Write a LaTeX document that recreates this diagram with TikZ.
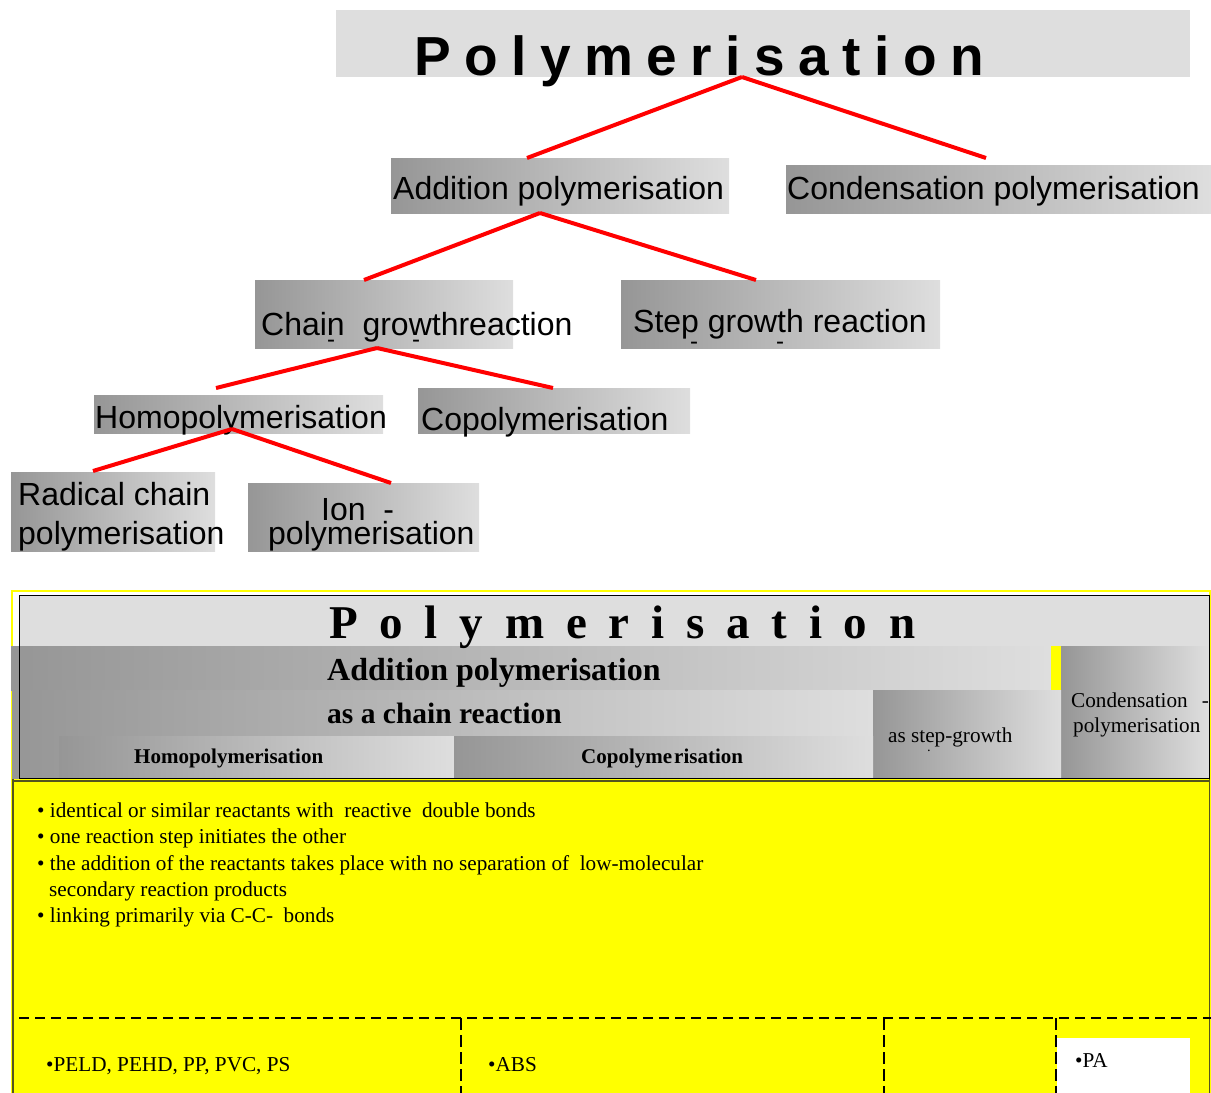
\documentclass[tikz,border=0pt]{standalone}
\usepackage{fontspec}
\setmainfont{Liberation Serif}
\newfontfamily\arial{Liberation Sans}
\definecolor{gdark}{RGB}{150,150,150}
\definecolor{glight}{RGB}{222,222,222}
\definecolor{borderol}{RGB}{85,85,30}
\definecolor{yel}{RGB}{255,255,0}
\tikzset{
  cell/.style={inner sep=0pt, outer sep=0pt, anchor=north west, draw=none},
  grad/.style={cell, left color=gdark, right color=glight},
  link/.style={red, line width=4pt},
  sans/.style={inner sep=0pt, anchor=base west, font=\arial\fontsize{32}{37}\selectfont},
  dashmark/.style={inner sep=0pt, anchor=base, font=\arial\fontsize{24}{24}\selectfont},
  ser/.style={inner sep=0pt, anchor=base west, font=\fontsize{21.2}{26}\selectfont},
  serb/.style={inner sep=0pt, anchor=base west, font=\bfseries\fontsize{21}{26}\selectfont},
  dashy/.style={line width=2pt, dash pattern=on 10pt off 6pt},
  vdashy/.style={line width=2pt, dash pattern=on 12pt off 5pt},
}
\begin{document}
\begin{tikzpicture}[x=1pt,y=-1pt]
\useasboundingbox (0,0) rectangle (1211,1093);
% ---------- tree boxes ----------
\node[cell, fill=glight, minimum width=854pt, minimum height=67pt] (title) at (336,10) {};
\node[grad, minimum width=338pt, minimum height=55pt] (add) at (391,158) {};
\node[grad, minimum width=425pt, minimum height=48pt] (cond) at (786,165) {};
\node[grad, minimum width=258pt, minimum height=68pt] (chain) at (255,280) {};
\node[grad, minimum width=319pt, minimum height=68pt] (step) at (621,280) {};
\node[grad, minimum width=289pt, minimum height=38pt] (homo) at (94,395) {};
\node[grad, minimum width=272pt, minimum height=45pt] (copo) at (418,388) {};
\node[grad, minimum width=204pt, minimum height=79pt] (rad) at (11,472) {};
\node[grad, minimum width=231pt, minimum height=68pt] (ion) at (248,483) {};
% ---------- tree texts ----------
\node[inner sep=0pt, anchor=base west, font=\arial\bfseries\fontsize{55}{60}\selectfont] (title-t) at (414,75) {\spaceskip=13.5pt P o l y m e r i s a t i o n};
\node[sans] (add-t) at (393,199) {Addition polymerisation};
\node[sans] (cond-t) at (787,199) {Condensation polymerisation};
\node[sans] (chain-t) at (261,335) {Chain\ \ growthreaction};
\node[sans] (step-t) at (633,332) {Step growth reaction};
\node[sans] (homo-t) at (95,428) {Homopolymerisation};
\node[sans] (copo-t) at (421,430) {Copolymerisation};
\node[sans] (rad-t1) at (18,505) {Radical chain};
\node[sans] (rad-t2) at (18,544) {polymerisation};
\node[sans] (ion-t1) at (321,520) {Ion\ \ -};
\node[sans] (ion-t2) at (268,544) {polymerisation};
\node[dashmark] (d1) at (331,347.5) {-};
\node[dashmark] (d2) at (416,347.5) {-};
\node[dashmark] (d3) at (694,349) {-};
\node[dashmark] (d4) at (780,349) {-};
% ---------- tree connectors ----------
\draw[link] ([xshift=-21pt]title.south) -- ([xshift=-33pt]add.north);
\draw[link] ([xshift=-21pt]title.south) -- ([xshift=-12.5pt,yshift=7pt]cond.north);
\draw[link] ([xshift=-20pt]add.south) -- ([xshift=-20pt]chain.north);
\draw[link] ([xshift=-20pt]add.south) -- ([xshift=-24.5pt]step.north);
\draw[link] ([xshift=-7pt]chain.south) -- ([xshift=-22.5pt,yshift=7pt]homo.north);
\draw[link] ([xshift=-7pt]chain.south) -- ([xshift=-1pt]copo.north);
\draw[link] ([xshift=-6.5pt,yshift=4pt]homo.south) -- ([xshift=-20pt,yshift=1pt]rad.north);
\draw[link] ([xshift=-6.5pt,yshift=4pt]homo.south) -- ([xshift=27.5pt]ion.north);
% ---------- table ----------
\draw[yel, line width=2pt] (12,591) rectangle (1210,1092);
\node[cell, fill=yel, minimum width=1197pt, minimum height=314pt] (body) at (13,779) {};
\node[cell, fill=glight, minimum width=1190pt, minimum height=51pt] (h-title) at (19,595) {};
\node[grad, minimum width=1040pt, minimum height=44pt] (h-add) at (11,646) {};
\node[cell, fill=yel, minimum width=10pt, minimum height=44pt] (h-strip) at (1051,646) {};
\node[grad, minimum width=148pt, minimum height=132pt] (h-cond) at (1061,646) {};
\node[grad, minimum width=861pt, minimum height=88pt] (h-chain) at (12,690) {};
\node[grad, minimum width=188pt, minimum height=88pt] (h-step) at (873,690) {};
\node[grad, minimum width=395pt, minimum height=42pt] (h-homo) at (59,736) {};
\node[grad, minimum width=419pt, minimum height=42pt] (h-copo) at (454,736) {};
\draw[black, line width=1pt] (19,595) rectangle (1209,778);
\draw[borderol, line width=2.5pt] (13,781) -- (1210,781);
\draw[borderol, line width=2pt] (13,779) -- (13,1093);
\draw[borderol, line width=1.5pt] (1209.5,779) -- (1209.5,1093);
% header texts
\node[inner sep=0pt, anchor=base west, font=\bfseries\fontsize{47}{52}\selectfont] (ht-title) at (329,638) {\spaceskip=21.8pt P o l y m e r i s a t i o n};
\node[inner sep=0pt, anchor=base west, font=\bfseries\fontsize{32}{36}\selectfont] (ht-add) at (327,680) {Addition polymerisation};
\node[inner sep=0pt, anchor=base west, font=\bfseries\fontsize{29.5}{34}\selectfont] (ht-chain) at (327,723) {as a chain reaction};
\node[serb] (ht-homo) at (134,763) {Homopolymerisation};
\node[serb] (ht-copo) at (581,763) {Copolyme\kern2pt risation};
\node[ser] (ht-step) at (888,742) {as step-growth};
\node[inner sep=0pt, font=\fontsize{14}{14}\selectfont] (ht-dot) at (929,753) {·};
\node[ser] (ht-cond1) at (1071,707) {Condensation\hspace{14pt}-};
\node[ser] (ht-cond2) at (1073,732) {polymerisation};
% body texts
\node[ser] (b1) at (37,817) {• identical or similar reactants with\ \ reactive\ \ double bonds};
\node[ser] (b2) at (37,843) {• one reaction step initiates the other};
\node[ser] (b3) at (37,870) {• the addition of the reactants takes place with no separation of\ \ low-molecular};
\node[ser] (b4) at (49,896) {secondary reaction products};
\node[ser] (b5) at (37,922) {• linking primarily via C-C-\ \ bonds};
% bottom row
\node[cell, fill=white, minimum width=133pt, minimum height=55pt] (pa-box) at (1057,1038) {};
\draw[dashy] (19,1018) -- (1211,1018);
\draw[vdashy] (461,1018) -- (461,1093);
\draw[vdashy] (884,1018) -- (884,1093);
\draw[vdashy] (1056,1018) -- (1056,1093);
\node[ser] (c1) at (46,1071) {•PELD, PEHD, PP, PVC, PS};
\node[ser] (c2) at (488,1071) {•ABS};
\node[ser] (c3) at (1075,1067) {•PA};
\end{tikzpicture}
\end{document}
